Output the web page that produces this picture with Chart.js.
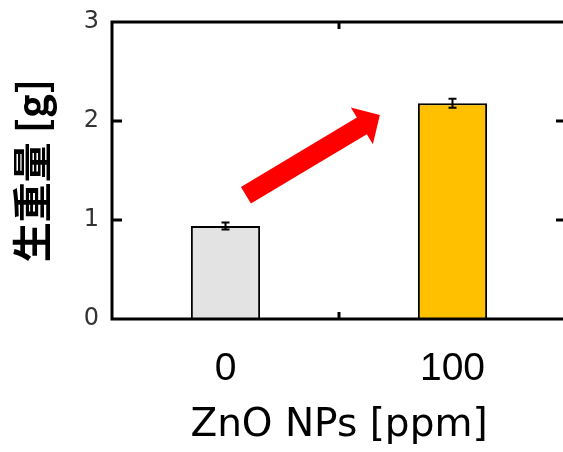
<!DOCTYPE html>
<html><head><meta charset="utf-8">
<script src="https://cdn.jsdelivr.net/npm/chart.js@4"></script>
<style>html,body{margin:0;padding:0;overflow:hidden;background:#fff;width:563px;height:452px}#wrap{width:575px;height:452px}</style>
</head><body><div id="wrap"><canvas id="c" width="575" height="452"></canvas></div>
<script>
const categories = ['0', '100'];
const means = [0.94, 2.18];
const errors = [0.035, 0.045];
const barColors = ['#e3e3e3', '#ffc000'];
const yTicks = [0, 1, 2, 3];
const xTitle = 'ZnO NPs [ppm]';
const yTitle = '生重量 [g]';
const arrowFrom = [0.09, 1.25];
const arrowTo = [0.68, 2.06];

const CJK = "'Noto Sans CJK JP', sans-serif";

const decor = {
  id: 'decor',
  afterDatasetsDraw(chart) {
    const ctx = chart.ctx, a = chart.chartArea;
    const xs = chart.scales.x, ys = chart.scales.y;
    ctx.save();
    ctx.strokeStyle = '#000'; ctx.lineWidth = 2;
    means.forEach((m, i) => {
      const x = xs.getPixelForValue(i);
      const t = ys.getPixelForValue(m + errors[i]);
      const b = ys.getPixelForValue(m - errors[i]);
      ctx.beginPath();
      ctx.moveTo(x, t); ctx.lineTo(x, b);
      ctx.moveTo(x - 4, t); ctx.lineTo(x + 4, t);
      ctx.moveTo(x - 4, b); ctx.lineTo(x + 4, b);
      ctx.stroke();
    });
    ctx.lineWidth = 3;
    ctx.strokeRect(a.left, a.top, a.right - a.left, a.bottom - a.top);
    yTicks.forEach(v => {
      if (v === yTicks[0] || v === yTicks[yTicks.length - 1]) return;
      const y = ys.getPixelForValue(v);
      ctx.beginPath();
      ctx.moveTo(a.left, y); ctx.lineTo(a.left + 10, y);
      ctx.moveTo(a.right, y); ctx.lineTo(a.right - 10, y);
      ctx.stroke();
    });
    const mx = xs.getPixelForValue(0.5);
    ctx.beginPath(); ctx.moveTo(mx, a.bottom); ctx.lineTo(mx, a.bottom - 7);
    ctx.moveTo(mx, a.top); ctx.lineTo(mx, a.top + 7); ctx.stroke();
    const p0 = [xs.getPixelForValue(arrowFrom[0]), ys.getPixelForValue(arrowFrom[1])];
    const p1 = [xs.getPixelForValue(arrowTo[0]), ys.getPixelForValue(arrowTo[1])];
    const dx = p1[0] - p0[0], dy = p1[1] - p0[1], L = Math.hypot(dx, dy);
    const u = [dx / L, dy / L], n = [-u[1], u[0]];
    const hw = 9.7, hhw = 21.5, hl = 21;
    const base = [p1[0] - u[0] * hl, p1[1] - u[1] * hl];
    const pt = (p, s) => [p[0] + n[0] * s, p[1] + n[1] * s];
    const poly = [pt(p0, hw), pt(base, hw), pt(base, hhw), p1, pt(base, -hhw), pt(base, -hw), pt(p0, -hw)];
    ctx.fillStyle = '#ff0000';
    ctx.beginPath();
    poly.forEach((p, i) => i ? ctx.lineTo(p[0], p[1]) : ctx.moveTo(p[0], p[1]));
    ctx.closePath(); ctx.fill();
    ctx.restore();
  }
};

new Chart(document.getElementById('c'), {
  type: 'bar',
  data: {
    labels: categories,
    datasets: [{
      data: means,
      backgroundColor: barColors,
      borderColor: '#000',
      borderWidth: 2,
      barPercentage: 0.305,
      categoryPercentage: 1
    }]
  },
  options: {
    responsive: false,
    animation: false,
    layout: { padding: { left: 8, right: 9, top: 22, bottom: 0 } },
    plugins: { legend: { display: false }, tooltip: { enabled: false } },
    scales: {
      x: {
        grid: { display: false, drawTicks: false },
        border: { display: false },
        ticks: { color: '#000', font: { family: "'Liberation Sans', Arial, sans-serif", size: 39 }, padding: 27 },
        title: { display: true, text: xTitle, color: '#000', font: { family: "'DejaVu Sans', sans-serif", size: 39 }, padding: { top: 0, bottom: 3 } },
        afterFit(s) { s.height = 133; s.paddingLeft = 0; s.paddingRight = 0; }
      },
      y: {
        min: 0, max: 3,
        afterBuildTicks(s) { s.ticks = yTicks.map(v => ({ value: v })); },
        grid: { display: false, drawTicks: false },
        border: { display: false },
        ticks: { color: '#333', font: { family: "'DejaVu Sans', sans-serif", size: 24 }, padding: 13 },
        title: { display: true, text: yTitle, color: '#000', font: { family: CJK, size: 40, weight: 'bold' }, padding: { top: 0, bottom: 0 } },
        afterFit(s) { s.width = 104; s.paddingTop = 0; s.paddingBottom = 0; }
      }
    }
  },
  plugins: [decor]
});
</script></body></html>
